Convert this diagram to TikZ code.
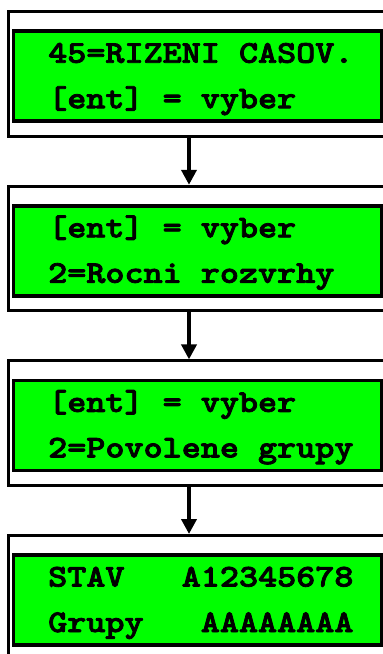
\documentclass[tikz,border=0pt]{standalone}
\usepackage{fontspec}
\newfontfamily\lcdfont{lmmonolt10-bold.otf}[FakeStretch=1.15, FakeBold=2.5]
\usepackage{xcolor}
\usetikzlibrary{positioning,arrows.meta,calc}
\definecolor{ink}{RGB}{0,0,0}
\definecolor{lcdgreen}{RGB}{0,255,0}
\tikzset{
  outerbox/.style={draw=ink, line width=3pt, minimum width=400pt, minimum height=124.5pt,
    anchor=north west, outer sep=0pt, inner sep=0pt},
  lcdbox/.style={draw=ink, fill=lcdgreen, line width=3.5pt, minimum width=368pt,
    minimum height=90pt, anchor=north west, outer sep=0pt, inner sep=0pt},
  lcdrow/.style={anchor=base west, inner sep=0pt, text=ink,
    font=\lcdfont\fontsize{31.6pt}{38pt}\selectfont},
  flow/.style={-{Triangle[length=15pt, width=15pt]}, line width=4pt, draw=ink, shorten >=1.5pt},
}
\begin{document}
\begin{tikzpicture}[x=1pt, y=-1pt]
  \useasboundingbox (0,0) rectangle (383,654);
  \clip (0,0) rectangle (383,654);
  \coordinate (ax) at (189,0);
  \foreach \i/\ta/\tb in {1/{45=RIZENI CASOV.}/{[ent] = vyber},
      2/{[ent] = vyber}/{2=Rocni rozvrhy},
      3/{[ent] = vyber}/{2=Povolene grupy},
      4/{STAV~~~A12345678}/{Grupy~~~AAAAAAAA}} {
    \node[outerbox] (outer\i) at (8.5, {11.7+174.6*(\i-1)}) {};
    \node[lcdbox] (lcd\i) at ($(outer\i.north west)+(5,19.5)$) {};
    \node[lcdrow] (top\i) at ($(lcd\i.north west)+(34.5,31.5)$) {\ta};
    \node[lcdrow] (bot\i) at ($(lcd\i.north west)+(34.5,77)$) {\tb};
  }
  \foreach \i/\j in {1/2,2/3,3/4}
    \draw[flow] (outer\i.south west -| ax) -- (outer\j.north west -| ax);
\end{tikzpicture}
\end{document}
